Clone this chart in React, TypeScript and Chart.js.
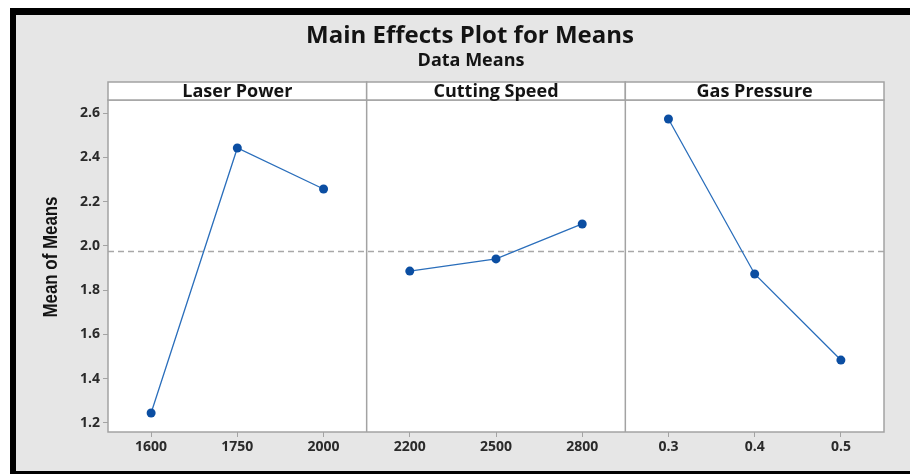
import React, { useEffect, useRef } from "react";
import { Chart, registerables } from "chart.js";

Chart.register(...registerables);

const chartTitle = "Main Effects Plot for Means";
const chartSubtitle = "Data Means";
const yAxisTitle = "Mean of Means";
const factorNames = ["Laser Power", "Cutting Speed", "Gas Pressure"];
const laserPowerLevels = ["1600", "1750", "2000"];
const cuttingSpeedLevels = ["2200", "2500", "2800"];
const gasPressureLevels = ["0.3", "0.4", "0.5"];
const laserPowerMeans = [1.245, 2.442, 2.257];
const cuttingSpeedMeans = [1.886, 1.941, 2.099];
const gasPressureMeans = [2.573, 1.873, 1.484];
const grandMean = 1.977;
const yTicks = [1.2, 1.4, 1.6, 1.8, 2.0, 2.2, 2.4, 2.6];
const yMin = 1.159;
const yMax = 2.659;

const LINE = "#2a6ebb";
const POINT = "#0b4ea2";
const FRAME = "#a3a3a3";
const TEXT = "#141414";
const SANS = '"Open Sans", "Noto Sans", sans-serif';
const NARROW = '"Liberation Sans", "Arial", sans-serif';

const levelGroups = [laserPowerLevels, cuttingSpeedLevels, gasPressureLevels];
const meanGroups = [laserPowerMeans, cuttingSpeedMeans, gasPressureMeans];
const allLevels = levelGroups.flat();

const panelPlugin = {
  id: "panelDecor",
  beforeDraw(chart: any) {
    const { ctx, chartArea: a } = chart;
    ctx.save();
    ctx.fillStyle = "#ffffff";
    ctx.fillRect(a.left, a.top, a.right - a.left, a.bottom - a.top);
    ctx.restore();
  },
  beforeDatasetsDraw(chart: any) {
    const { ctx, chartArea: a, scales } = chart;
    const x = scales.x;
    const y = scales.y;
    ctx.save();
    // grand mean reference line
    const ym = Math.round(y.getPixelForValue(grandMean)) + 0.5;
    ctx.strokeStyle = "#a8a8a8";
    ctx.lineWidth = 1.5;
    ctx.setLineDash([6, 4]);
    ctx.beginPath();
    ctx.moveTo(a.left, ym);
    ctx.lineTo(a.right, ym);
    ctx.stroke();
    ctx.setLineDash([]);
    // panel dividers and frame
    ctx.strokeStyle = FRAME;
    ctx.lineWidth = 1.5;
    const n = levelGroups.length;
    const bounds: number[] = [];
    let idx = 0;
    bounds.push(x.getPixelForValue(-0.5));
    for (let i = 0; i < n; i++) {
      idx += levelGroups[i].length;
      bounds.push(x.getPixelForValue(idx - 0.5));
    }
    for (let i = 1; i < n; i++) {
      ctx.beginPath();
      ctx.moveTo(bounds[i], a.top);
      ctx.lineTo(bounds[i], a.bottom);
      ctx.stroke();
    }
    ctx.strokeRect(a.left, a.top, a.right - a.left, a.bottom - a.top);
    // panel headers
    const hTop = a.top - 18;
    for (let i = 0; i < n; i++) {
      ctx.fillStyle = "#ffffff";
      ctx.fillRect(bounds[i], hTop, bounds[i + 1] - bounds[i], a.top - hTop);
      ctx.strokeStyle = FRAME;
      ctx.strokeRect(bounds[i], hTop, bounds[i + 1] - bounds[i], a.top - hTop);
      ctx.fillStyle = TEXT;
      ctx.font = `bold 18px ${SANS}`;
      ctx.textAlign = "center";
      ctx.textBaseline = "middle";
      ctx.fillText(factorNames[i], (bounds[i] + bounds[i + 1]) / 2, (hTop + a.top) / 2 + 1);
    }
    // titles
    ctx.fillStyle = TEXT;
    ctx.textAlign = "center";
    ctx.textBaseline = "middle";
    ctx.font = `bold 24px ${SANS}`;
    ctx.fillText(chartTitle, 454, 21);
    ctx.font = `bold 18px ${SANS}`;
    ctx.fillText(chartSubtitle, 455, 46);
    // y axis title (narrow bold)
    ctx.save();
    ctx.translate(35, 242);
    ctx.rotate(-Math.PI / 2);
    ctx.font = `bold 20px ${NARROW}`;
    const w = ctx.measureText(yAxisTitle).width;
    ctx.scale(121 / w, 1);
    ctx.fillText(yAxisTitle, 0, 0);
    ctx.restore();
    ctx.restore();
  },
};

export default function App() {
  const ref = useRef<HTMLCanvasElement>(null);
  useEffect(() => {
    if (!ref.current) return;
    const datasets = meanGroups.map((means, g) => ({
      label: factorNames[g],
      data: means.map((v, i) => ({ x: levelGroups[g][i], y: v })),
      borderColor: LINE,
      borderWidth: 1.3,
      pointBackgroundColor: POINT,
      pointBorderColor: POINT,
      pointRadius: 4.5,
      pointBorderWidth: 0,
      tension: 0,
      fill: false,
    }));
    const chart = new Chart(ref.current, {
      type: "line",
      data: { labels: allLevels, datasets },
      plugins: [panelPlugin],
      options: {
        responsive: false,
        animation: false,
        layout: { padding: { left: 0, right: 26, top: 85, bottom: 0 } },
        plugins: { legend: { display: false }, tooltip: { enabled: false }, title: { display: false } },
        scales: {
          x: {
            type: "category",
            offset: true,
            afterFit: (s: any) => {
              s.height = 39;
            },
            grid: { drawOnChartArea: false, offset: false, tickLength: 5, color: FRAME, tickWidth: 1 },
            border: { display: false },
            ticks: { color: "#2a2a2a", padding: 2, font: { family: SANS, size: 14, weight: "bold" }, maxRotation: 0, autoSkip: false },
          },
          y: {
            type: "linear",
            min: yMin,
            max: yMax,
            afterFit: (s: any) => {
              s.width = 92;
            },
            afterBuildTicks: (s: any) => {
              s.ticks = yTicks.map((v) => ({ value: v }));
            },
            grid: { drawOnChartArea: false, tickLength: 5, color: FRAME, tickWidth: 1 },
            border: { display: false },
            ticks: {
              color: "#2a2a2a",
              padding: 3,
              font: { family: SANS, size: 14, weight: "bold" },
              callback: (v: any) => Number(v).toFixed(1),
            },
          },
        },
      },
    });
    return () => chart.destroy();
  }, []);
  return (
    <div
      style={{
        position: "absolute",
        left: 10,
        top: 8,
        width: 894,
        height: 456,
        borderTop: "7px solid #000",
        borderLeft: "6px solid #000",
        borderBottom: "3px solid #000",
        background: "#e6e6e6",
      }}
    >
      <canvas ref={ref} width={894} height={456} style={{ display: "block" }} />
    </div>
  );
}
